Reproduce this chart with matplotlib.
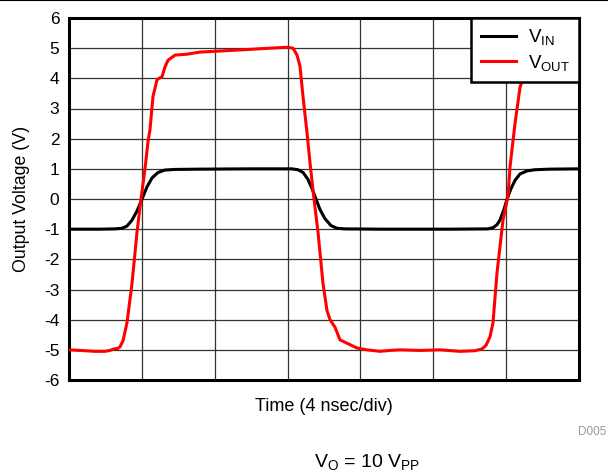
import matplotlib
matplotlib.use("Agg")
import matplotlib.pyplot as plt
import numpy as np

plt.rcParams['font.family'] = ['Liberation Sans', 'DejaVu Sans']
plt.rcParams['mathtext.fontset'] = 'custom'
plt.rcParams['mathtext.rm'] = 'Liberation Sans'
plt.rcParams['mathtext.it'] = 'Liberation Sans:italic'
plt.rcParams['mathtext.bf'] = 'Liberation Sans:bold'

# Time in ns (4 ns/div, 7 divisions)
vin_t = [0.00, 1.70, 2.53, 2.91, 3.18, 3.46, 3.73, 4.01, 4.28, 4.56, 4.89, 5.27,
         5.82, 7.19, 9.94, 12.24, 12.57, 12.85, 13.12, 13.34, 13.56, 13.78, 14.05,
         14.38, 14.71, 15.15, 17.07, 20.92, 23.00, 23.28, 23.50, 23.66, 23.88,
         24.05, 24.27, 24.49, 24.76, 25.14, 25.58, 26.41, 28.00]
vin_v = [-1.00, -1.00, -0.99, -0.97, -0.90, -0.70, -0.40, 0.00, 0.40, 0.70, 0.88, 0.96,
         0.98, 0.99, 1.00, 1.00, 0.97, 0.88, 0.65, 0.35, 0.00, -0.35, -0.65,
         -0.88, -0.97, -0.99, -1.00, -1.00, -0.99, -0.95, -0.85, -0.70, -0.35,
         0.00, 0.35, 0.62, 0.83, 0.93, 0.97, 0.99, 1.00]

vout_px = [69, 80, 95, 105, 110, 114, 118, 120, 123, 127, 132, 137, 141, 145, 148,
           150, 153, 157, 160, 162, 165, 168, 175, 187, 200, 217, 250, 270, 287,
           293, 297, 300, 303, 307, 310, 314, 318, 323, 327, 330, 335, 340, 347,
           357, 367, 380, 390, 400, 420, 440, 460, 475, 482, 486, 490, 493, 497,
           503, 508, 510, 515, 520, 524, 528, 533, 540, 579]
vout_v = [-5.00, -5.02, -5.05, -5.05, -5.02, -4.97, -4.95, -4.90, -4.70, -4.10, -2.80,
          -1.10, 0.00, 1.00, 1.90, 2.30, 3.40, 3.95, 4.02, 4.05, 4.38, 4.60, 4.77,
          4.80, 4.87, 4.90, 4.96, 5.00, 5.03, 5.00, 4.77, 4.40, 3.40, 2.20, 1.20,
          0.00, -1.10, -2.80, -3.70, -4.00, -4.25, -4.67, -4.78, -4.94, -5.00, -5.05,
          -5.02, -5.00, -5.02, -5.00, -5.05, -5.03, -4.97, -4.85, -4.57, -4.10, -2.45,
          -0.70, 0.10, 1.06, 2.50, 3.70, 4.10, 4.50, 4.80, 4.90, 5.00]
vout_t = [(p - 69) * 28.0 / 510.0 for p in vout_px]

y_ticks = [-6, -5, -4, -3, -2, -1, 0, 1, 2, 3, 4, 5, 6]
x_grid = [4, 8, 12, 16, 20, 24]

fig = plt.figure(figsize=(6.08, 4.74), dpi=100)
ax = fig.add_axes([69/608, 1-380/474, 510/608, 362/474])

ax.plot(vin_t, vin_v, color='black', lw=2.2, label=r'$\mathrm{V_{IN}}$', zorder=3)
ax.plot(vout_t, vout_v, color='#ff0000', lw=2.2, label=r'$\mathrm{V_{OUT}}$', zorder=4)

ax.set_xlim(0, 28)
ax.set_ylim(-6, 6)
ax.set_yticks(y_ticks)
ax.set_yticklabels([str(v) for v in y_ticks])
ax.set_xticks(x_grid)
ax.set_xticklabels([])
ax.tick_params(axis='both', length=0, labelsize=12.5, pad=7)
ax.grid(True, color='#333333', lw=0.9)
for s in ax.spines.values():
    s.set_linewidth(2.2)
    s.set_color('black')

ax.set_ylabel('Output Voltage (V)', fontsize=12.8, labelpad=10)
ax.set_xlabel('Time (4 nsec/div)', fontsize=13, labelpad=6)

leg = ax.legend(loc='upper right', fontsize=13.5, frameon=True, fancybox=False,
                borderaxespad=0, handlelength=1.9, handletextpad=0.6,
                labelspacing=0.3, borderpad=0.5)
leg.get_frame().set_edgecolor('black')
leg.get_frame().set_linewidth(1.8)
leg.get_frame().set_alpha(1)
leg.set_zorder(10)

fig.text(0.997, 1-432/474, 'D005', fontsize=8.5, color='#999999', ha='right', va='center')
fig.text(367/608, 1-462/474, r'$\mathrm{V_{O}}$ = 10 $\mathrm{V_{PP}}$', fontsize=14,
         ha='center', va='center')

fig.add_artist(plt.Line2D([0, 1], [0.999, 0.999], color='black', lw=1.5,
                          transform=fig.transFigure))

fig.savefig('out.png', dpi=100)
